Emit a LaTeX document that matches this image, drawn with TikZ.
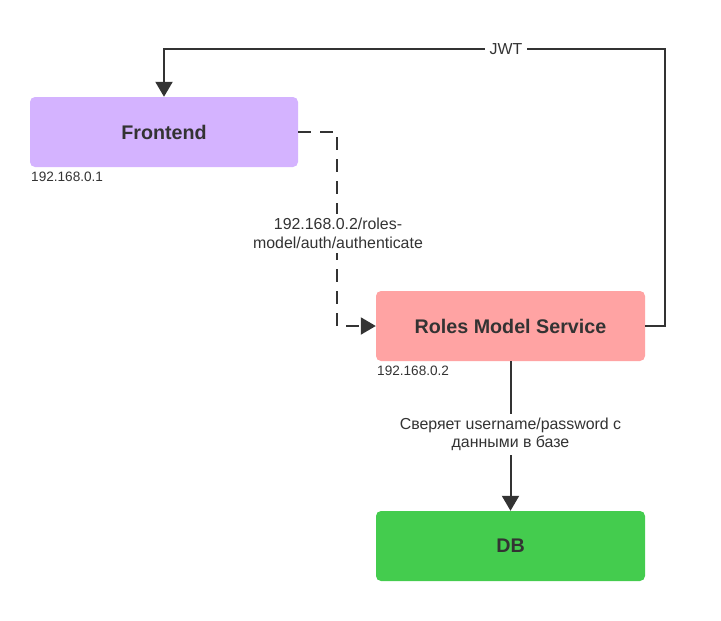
\documentclass[tikz,border=0pt]{standalone}
\usepackage{fontspec}
\setmainfont{Liberation Sans}
\usetikzlibrary{arrows.meta}
\definecolor{txt}{HTML}{333333}
\definecolor{purp}{HTML}{D4B3FF}
\definecolor{pink}{HTML}{FFA3A3}
\definecolor{grn}{HTML}{44CC4E}
\tikzset{
  box/.style={rounded corners=5pt, minimum width=269pt, minimum height=70pt, inner sep=0pt,
    font=\fontsize{19.7}{23}\selectfont\bfseries, text=txt},
  conn/.style={draw=txt, line width=2pt, -{Triangle[length=15pt,width=17pt]}},
  dsh/.style={dash pattern=on 13pt off 9pt},
  lbl/.style={font=\fontsize{15.9}{18.5}\selectfont, text=txt, align=center, fill=white, inner sep=1.5pt},
  ip/.style={font=\fontsize{13.6}{16}\selectfont, text=txt, anchor=west, inner sep=0pt}
}
\begin{document}
\begin{tikzpicture}[x=1pt,y=-1pt]
\useasboundingbox (0,0) rectangle (721,621);
\node[box, fill=purp, minimum width=268pt] (front) at (164,132) {Frontend};
\node[box, fill=pink] (roles) at (510.5,326) {Roles Model Service};
\node[box, fill=grn] (db) at (510.5,546) {DB};
\node[ip] (ip1) at (31,177) {192.168.0.1};
\node[ip] (ip2) at (377,371) {192.168.0.2};
\coordinate (c1) at (665,49);
\draw[conn] (roles.east) -| (c1) -| (front.north);
\node[lbl, inner xsep=5pt] (jwt) at (506,49) {JWT};
\draw[conn, dsh] (front.east) -- ++(39,0) |- (roles.west);
\node[lbl, inner ysep=4pt] (l1) at (338,233.5) {192.168.0.2/roles-\\model/auth/authenticate};
\draw[conn] (roles.south) -- (db.north);
\node[lbl, inner ysep=4pt] (l2) at (510.5,434.5) {Сверяет username/password с\\данными в базе};
\end{tikzpicture}
\end{document}
